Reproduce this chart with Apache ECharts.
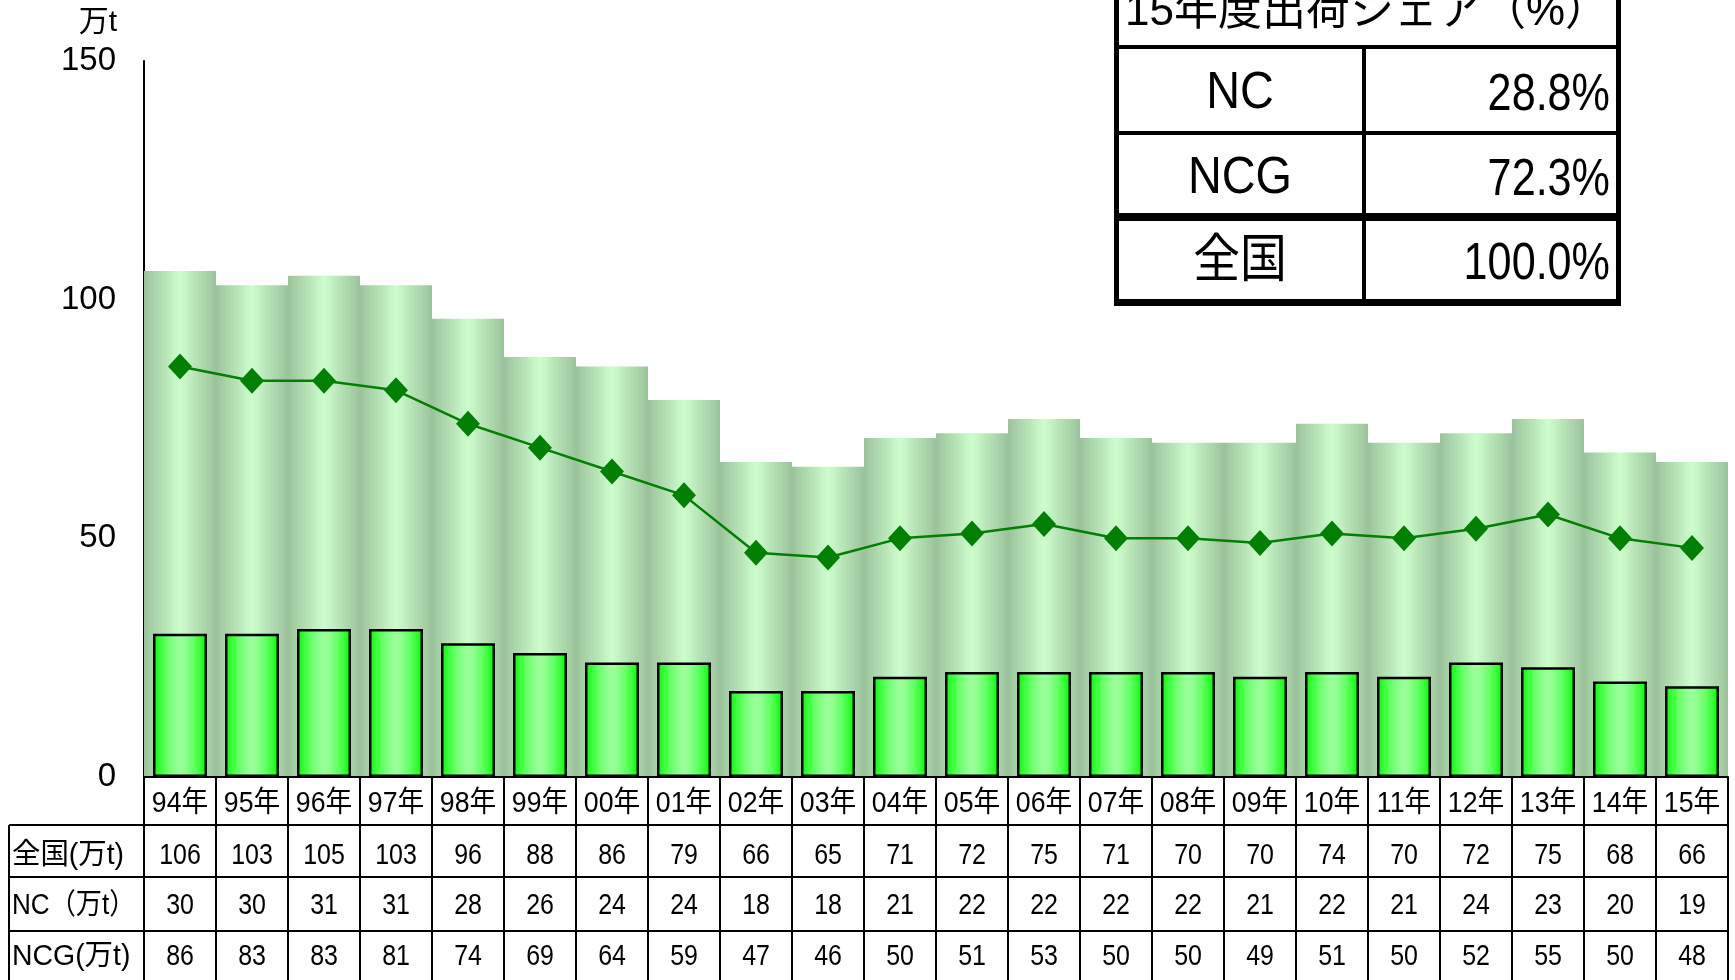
<!DOCTYPE html>
<html><head><meta charset="utf-8">
<script src="https://cdn.jsdelivr.net/npm/echarts@6/dist/echarts.min.js"></script>
<style>html,body{margin:0;padding:0;background:#fff}#c{width:1735px;height:980px}</style>
</head><body><div id="c"></div>
<script>
// ---- data ----
const years = ['94年','95年','96年','97年','98年','99年','00年','01年','02年','03年','04年','05年','06年','07年','08年','09年','10年','11年','12年','13年','14年','15年'];
const zenkoku = [106,103,105,103,96,88,86,79,66,65,71,72,75,71,70,70,74,70,72,75,68,66];
const nc = [30,30,31,31,28,26,24,24,18,18,21,22,22,22,22,21,22,21,24,23,20,19];
const ncg = [86,83,83,81,74,69,64,59,47,46,50,51,53,50,50,49,51,50,52,55,50,48];
const rowLabels = ['全国(万t)','NC（万t）','NCG(万t)'];
const rowValues = [zenkoku, nc, ncg];
const yMin = 0, yMax = 150, yInterval = 50;
const yUnit = '万t';
const shareTitle = '15年度出荷シェア（%）';
const shareLabels = ['NC','NCG','全国'];
const shareValues = ['28.8%','72.3%','100.0%'];

const FONT = "'Liberation Sans','Noto Sans CJK JP',sans-serif";
const chart = echarts.init(document.getElementById('c'));

const option = {
  animation: false,
  backgroundColor: '#fff',
  grid: {left: 144, right: 7, top: 61, bottom: 203},
  xAxis: [
    {type: 'category', data: years, boundaryGap: true,
     axisLine: {show: true, lineStyle: {color: '#000', width: 2}},
     axisTick: {show: false}, axisLabel: {show: false}, splitLine: {show: false}},
    {type: 'category', data: years, boundaryGap: true, show: false}
  ],
  yAxis: {
    type: 'value', min: yMin, max: yMax, interval: yInterval,
    axisLine: {show: true, lineStyle: {color: '#000', width: 2}},
    axisTick: {show: false}, splitLine: {show: false},
    axisLabel: {color: '#000', fontSize: 33, fontFamily: FONT, margin: 28}
  },
  series: [
    {name: '全国', type: 'bar', xAxisIndex: 1, data: zenkoku, barWidth: '100%', z: 1,
     itemStyle: {color: new echarts.graphic.LinearGradient(0,0,1,0,[
       {offset:0,color:'#9bc39b'},{offset:0.5,color:'#cdfdcd'},{offset:1,color:'#9bc39b'}])}},
    {name: 'NC', type: 'bar', xAxisIndex: 0, data: nc, barWidth: 54, z: 2,
     itemStyle: {borderColor: '#000', borderWidth: 2.5, color: new echarts.graphic.LinearGradient(0,0,1,0,[
       {offset:0,color:'#00ff00'},{offset:0.25,color:'#66ff66'},{offset:0.45,color:'#99ff99'},{offset:0.55,color:'#99ff99'},{offset:0.75,color:'#66ff66'},{offset:1,color:'#00ff00'}])}},
    {name: 'NCG', type: 'line', xAxisIndex: 0, data: ncg, z: 3,
     lineStyle: {color: '#008000', width: 2.5},
     itemStyle: {color: '#008000'},
     symbol: 'diamond', symbolSize: [24, 26]}
  ]
};
chart.setOption(option);

// ---- tables (positions from the axis) ----
const g = [];
const cx = years.map(y => chart.convertToPixel({xAxisIndex: 0}, y));
const band = cx[1] - cx[0];
const left = cx[0] - band / 2, right = cx[cx.length - 1] + band / 2;
const rowsY = [777, 825, 877, 931];
function line(x1,y1,x2,y2,w){ g.push({type:'line', shape:{x1,y1,x2,y2}, style:{stroke:'#000', lineWidth:w||2}, z:10}); }
function text(x,y,t,size,align,sx,zz){ g.push({type:'text', x, y, scaleX: sx||1, style:{text:t, fill:'#000', font: size+'px '+FONT, textAlign: align||'center', textVerticalAlign:'middle'}, z: zz||11}); }
// horizontal lines
line(left, rowsY[0], right, rowsY[0]);
for (let r = 1; r < 4; r++) line(9, rowsY[r], right, rowsY[r]);
// vertical lines
line(9, rowsY[1], 9, 980);
for (let i = 0; i <= years.length; i++) {
  const x = left + i * band;
  line(x, rowsY[0], x, 980);
}
// year row
years.forEach((y, i) => text(cx[i], 804, y, 29, 'center', 0.92));
const rowTextY = [856, 906, 957];
const rowLabelScale = [0.98, 0.9, 0.98];
rowLabels.forEach((l, r) => {
  text(12, rowTextY[r], l, 29, 'left', rowLabelScale[r]);
  rowValues[r].forEach((v, i) => text(cx[i], rowTextY[r], String(v), 29, 'center', 0.86));
});
// unit
text(117, 23, yUnit, 30, 'right');

// share table
g.push({type:'rect', shape:{x:1114,y:-10,width:507,height:316}, style:{fill:'#fff'}, z:20});
function bar(x,y,w,h){ g.push({type:'rect', shape:{x,y,width:w,height:h}, style:{fill:'#000'}, z:21}); }
bar(1114, -10, 5, 316);
bar(1616, -10, 5, 316);
bar(1114, 299, 507, 7);
bar(1114, 45, 507, 4);
bar(1119, 131, 497, 4);
bar(1119, 213, 497, 8);
bar(1362, 49, 4, 250);
text(1367, 13, shareTitle, 44, 'center', 1, 22);
const shareY = [94, 179, 263];
shareLabels.forEach((l, r) => {
  text(1240, shareY[r], l, 52, 'center', 0.9, 22);
  text(1610, shareY[r] + 2, shareValues[r], 52, 'right', 0.83, 22);
});
chart.setOption({graphic: g});
</script></body></html>
